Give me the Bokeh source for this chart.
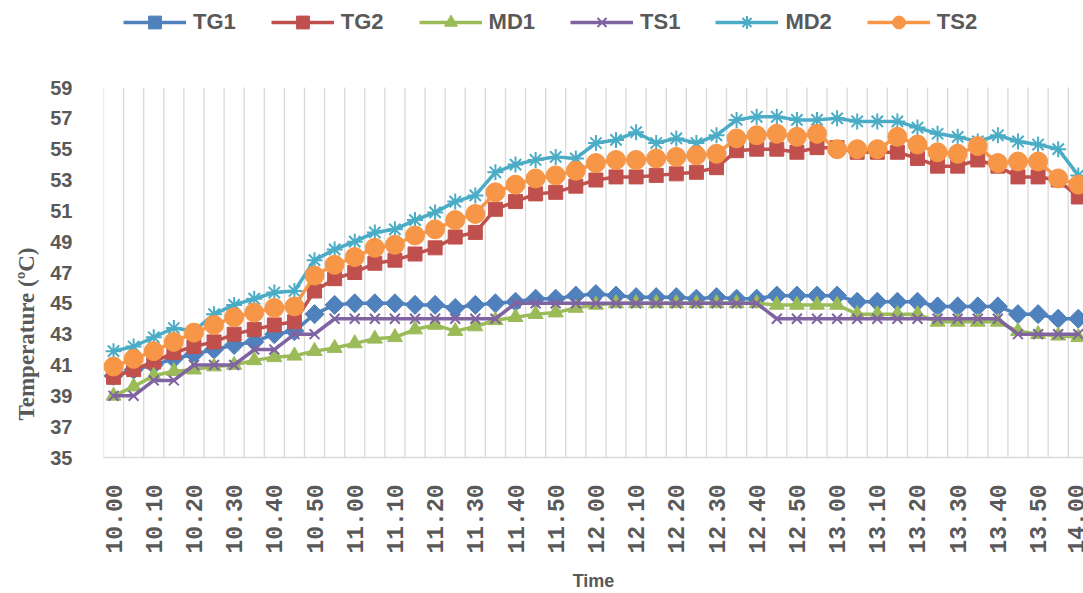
import math
from bokeh.plotting import figure
from bokeh.models import Range1d, FixedTicker, Legend, LegendItem, Title
from bokeh.embed import file_html
from bokeh.resources import INLINE

times = ["10.00", "10.05", "10.10", "10.15", "10.20", "10.25", "10.30", "10.35", "10.40", "10.45",
         "10.50", "10.55", "11.00", "11.05", "11.10", "11.15", "11.20", "11.25", "11.30", "11.35",
         "11.40", "11.45", "11.50", "11.55", "12.00", "12.05", "12.10", "12.15", "12.20", "12.25",
         "12.30", "12.35", "12.40", "12.45", "12.50", "12.55", "13.00", "13.05", "13.10", "13.15",
         "13.20", "13.25", "13.30", "13.35", "13.40", "13.45", "13.50", "13.55", "14.00"]

TG1 = [40.3, 40.7, 41.0, 41.4, 41.7, 42.0, 42.3, 42.5, 43.0, 43.2,
       44.3, 44.9, 45.0, 45.0, 45.0, 44.9, 44.9, 44.7, 44.9, 45.0,
       45.1, 45.3, 45.3, 45.5, 45.6, 45.5, 45.4, 45.4, 45.4, 45.3,
       45.4, 45.3, 45.3, 45.5, 45.5, 45.5, 45.5, 45.1, 45.1, 45.1,
       45.1, 44.8, 44.8, 44.8, 44.8, 44.3, 44.3, 44.0, 44.0]
TG2 = [40.2, 40.7, 41.2, 41.8, 42.2, 42.5, 43.0, 43.3, 43.6, 43.8,
       45.8, 46.6, 47.0, 47.6, 47.8, 48.2, 48.6, 49.3, 49.6, 51.1,
       51.6, 52.1, 52.2, 52.6, 53.0, 53.2, 53.2, 53.3, 53.4, 53.5,
       53.8, 54.9, 55.0, 55.0, 54.8, 55.1, 55.1, 54.8, 54.8, 54.8,
       54.4, 53.9, 53.9, 54.3, 53.9, 53.2, 53.2, 53.0, 51.9]
MD1 = [39.0, 39.6, 40.3, 40.6, 40.7, 40.9, 41.0, 41.3, 41.5, 41.6,
       41.9, 42.1, 42.4, 42.7, 42.8, 43.3, 43.6, 43.2, 43.5, 43.9,
       44.1, 44.3, 44.4, 44.7, 44.9, 45.0, 45.0, 45.0, 45.0, 45.0,
       45.0, 45.0, 45.0, 44.9, 44.9, 44.9, 44.9, 44.3, 44.3, 44.3,
       44.3, 43.8, 43.8, 43.8, 43.8, 43.2, 43.0, 42.9, 42.8]
TS1 = [39, 39, 40, 40, 41, 41, 41, 42, 42, 43,
       43, 44, 44, 44, 44, 44, 44, 44, 44, 44,
       45, 45, 45, 45, 45, 45, 45, 45, 45, 45,
       45, 45, 45, 44, 44, 44, 44, 44, 44, 44,
       44, 44, 44, 44, 44, 43, 43, 43, 43]
MD2 = [41.9, 42.2, 42.8, 43.4, 43.2, 44.3, 44.9, 45.3, 45.7, 45.8,
       47.8, 48.5, 49.0, 49.6, 49.8, 50.4, 50.9, 51.6, 52.0, 53.5,
       54.0, 54.3, 54.5, 54.4, 55.4, 55.6, 56.1, 55.4, 55.7, 55.4,
       55.9, 56.9, 57.1, 57.1, 56.9, 56.9, 57.0, 56.8, 56.8, 56.8,
       56.4, 56.0, 55.8, 55.5, 55.9, 55.5, 55.3, 55.0, 53.3]
TS2 = [40.9, 41.4, 41.9, 42.5, 43.1, 43.6, 44.1, 44.4, 44.7, 44.8,
       46.8, 47.5, 48.0, 48.6, 48.8, 49.4, 49.8, 50.4, 50.8, 52.2,
       52.7, 53.1, 53.3, 53.6, 54.1, 54.3, 54.3, 54.4, 54.5, 54.6,
       54.7, 55.7, 55.9, 56.0, 55.8, 56.0, 55.0, 55.0, 55.0, 55.8,
       55.3, 54.8, 54.7, 55.2, 54.1, 54.2, 54.2, 53.1, 52.7]

y_ticks = [35, 37, 39, 41, 43, 45, 47, 49, 51, 53, 55, 57, 59]

# name, values, colour, marker, size, marker angle
series = [
    ("TG1", TG1, "#4F81BD", "square", 13.5, math.pi / 4),
    ("TG2", TG2, "#C0504D", "square", 14, 0),
    ("MD1", MD1, "#9BBB59", "triangle", 15, 0),
    ("TS1", TS1, "#8064A2", "x", 14, 0),
    ("MD2", MD2, "#4BACC6", "asterisk", 16, 0),
    ("TS2", TS2, "#F79646", "circle", 19, 0),
]

x = list(range(len(times)))
n = len(times)

# layout (pixels): plot area from y=87 (top tick) to 457 (bottom); legend lives above it
W, H = 1083, 593
top_px, bottom_px = 87, 457
px_per_unit = (bottom_px - top_px) / (y_ticks[-1] - y_ticks[0])
y_top = y_ticks[-1] + top_px / px_per_unit

p = figure(width=W, height=H, output_backend="svg", toolbar_location=None,
           x_range=Range1d(-0.5, n - 0.74), y_range=Range1d(y_ticks[0], y_top),
           min_border_left=103, min_border_right=0, min_border_top=0,
           min_border_bottom=H - bottom_px)
p.outline_line_color = None
p.background_fill_color = "white"
p.border_fill_color = "white"

# vertical gridlines at category boundaries, only over the value range
bounds = [i - 0.5 for i in range(n + 1)]
p.segment(x0=bounds, y0=[y_ticks[0]] * len(bounds), x1=bounds, y1=[y_ticks[-1]] * len(bounds),
          line_color="#D9D9D9", line_width=1.3)

items = []
for name, vals, col, mk, sz, ang in series:
    lr = p.line(x, vals, line_color=col, line_width=3.5)
    if mk in ("x", "asterisk"):
        sr = p.scatter(x, vals, marker=mk, size=sz, line_color=col, line_width=2, fill_color=None)
    else:
        sr = p.scatter(x, vals, marker=mk, size=sz, angle=ang, line_color=col, fill_color=col)
    items.append(LegendItem(label=name, renderers=[lr, sr]))

# axes
p.xaxis.ticker = FixedTicker(ticks=x[::2])
p.xaxis.major_label_overrides = {i: times[i] for i in x}
p.xaxis.major_label_orientation = math.pi / 2
p.xaxis.major_label_text_font = "Liberation Mono"
p.xaxis.major_label_text_font_style = "bold"
p.xaxis.major_label_text_font_size = "23px"
p.xaxis.major_label_text_color = "#595959"
p.xaxis.major_label_standoff = 21
p.xaxis.major_tick_line_color = None
p.xaxis.minor_tick_line_color = None
p.xaxis.axis_line_color = "#D9D9D9"
p.xaxis.axis_line_width = 1.5
p.xaxis.axis_label = "Time"
p.xaxis.axis_label_text_font = "Liberation Sans"
p.xaxis.axis_label_text_font_style = "bold"
p.xaxis.axis_label_text_font_size = "18px"
p.xaxis.axis_label_text_color = "#595959"
p.xaxis.axis_label_standoff = 14

p.yaxis.ticker = FixedTicker(ticks=y_ticks)
p.yaxis.major_label_text_font = "Liberation Sans"
p.yaxis.major_label_text_font_style = "bold"
p.yaxis.major_label_text_font_size = "20px"
p.yaxis.major_label_text_color = "#595959"
p.yaxis.major_label_standoff = 25
p.yaxis.major_tick_line_color = None
p.yaxis.minor_tick_line_color = None
p.yaxis.axis_line_color = None

p.xgrid.visible = False
p.ygrid.visible = False

ytitle = Title(text="Temperature (\u00baC)", align="left", offset=37, standoff=18,
               text_font="Liberation Serif", text_font_style="bold", text_font_size="23px",
               text_color="#595959")
p.add_layout(ytitle, "left")

legend = Legend(items=items, orientation="horizontal", location=(20, 419),
                glyph_width=63, glyph_height=32, label_standoff=7, spacing=35,
                padding=0, margin=0, border_line_alpha=0, background_fill_alpha=0,
                label_text_font="Liberation Sans", label_text_font_style="bold",
                label_text_font_size="22px", label_text_color="#595959")
p.add_layout(legend)

open("out.html", "w").write(file_html(p, INLINE))
